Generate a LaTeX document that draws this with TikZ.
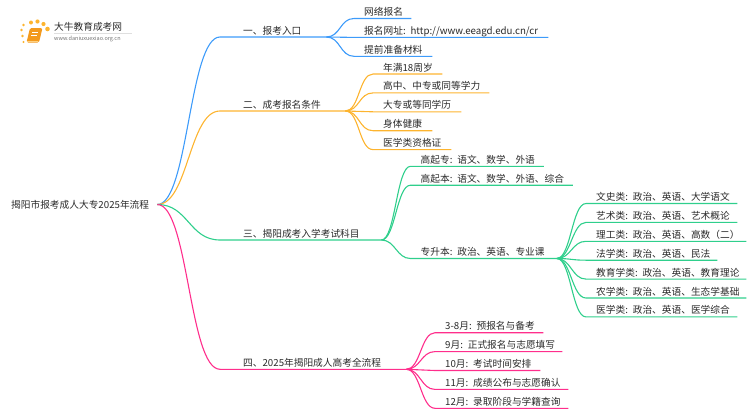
\documentclass[tikz,border=0pt]{standalone}
\usepackage{fontspec}
\setmainfont{Noto Sans CJK SC}
\usetikzlibrary{positioning}
\definecolor{blueline}{HTML}{3D9BFA}
\definecolor{orangeline}{HTML}{FDB42F}
\definecolor{greenline}{HTML}{2FCF8C}
\definecolor{pinkline}{HTML}{FF2E8C}
\definecolor{inktext}{HTML}{2A2A2A}
\definecolor{bookorange}{HTML}{F39A1E}

\begin{document}
\begin{tikzpicture}[x=1pt, y=-1pt]
\tikzset{
	    mytext/.style={font=\fontsize{9.7pt}{12pt}\selectfont, text=inktext},
	    mybranch/.style={mytext, inner xsep=0pt, inner ysep=0pt, text height=15.7pt, text depth=2.8pt, align=left, text width=#1, execute at begin node={\hspace*{23pt}}},
	    myleaf/.style={mytext, inner xsep=0pt, inner ysep=0pt, text height=15.7pt, text depth=2.8pt, align=left, text width=#1, execute at begin node={\hspace*{10pt}}},
	    mytrunk/.style={line width=1.1pt, to path={.. controls +(31,0) and +(-31,0) .. (\tikztotarget)}},
	    mytwig/.style={line width=1.1pt, to path={.. controls +(14,0) and +(-14,0) .. (\tikztotarget)}}
	}
	\useasboundingbox (0,0) rectangle (750,410);

	% logo
	\foreach \dotx/\doty/\dotr in {23.5/25/1.4, 21.5/30/1.4, 22.5/36/1.3, 23.5/42/1.1, 31/22.5/2, 37.5/21.5/2.1, 43.5/24/2.1, 47.5/29/2.3}
		\fill[orangeline] (\dotx,\doty) circle (\dotr);
	\fill[bookorange, rounded corners=1.5pt] (30,28) -- (42.5,28) -- (39,42.5) -- (26.5,42.5) -- cycle;
	\draw[white, line width=0.6pt] (32,32) -- (38,32) (31,35) -- (37,35);
	\draw[orangeline!60, line width=0.7pt] (27,41) -- (38,41);
	\node[mytext, anchor=west, inner sep=0pt] (logotitle) at (54,26.5) {大牛教育成考网};
	\node[anchor=west, inner sep=0pt, font=\fontsize{5.5pt}{6pt}\selectfont, text=gray!90!black] (logosite) at (54,38.5) {www.daniuxuexiao.org.cn};
	\draw[gray!25, line width=0.5pt] (54,33) -- (132,33);

	% root and branches
	\node[mytext, anchor=west, inner xsep=8pt, inner ysep=2pt] (root) at (3,204.5) {揭阳市报考成人大专2025年流程};
	\node[mybranch=106pt, anchor=south west] (entry) at (220,37) {一、报考入口};
	\node[mybranch=125pt, anchor=south west] (cond) at (220,111) {二、成考报名条件};
	\node[mybranch=161pt, anchor=south west] (subject) at (220,240) {三、揭阳成考入学考试科目};
	\node[mybranch=186pt, anchor=south west] (process) at (220,369.3) {四、2025年揭阳成人高考全流程};

	\node[myleaf=57pt, anchor=south west] (online) at (354,18.5) {网络报名};
	\node[myleaf=194pt, below=0pt of online.south west, anchor=north west] (website) {报名网址: http://www.eeagd.edu.cn/cr};
	\node[myleaf=78pt, below=0pt of website.south west, anchor=north west] (material) {提前准备材料};

	\node[myleaf=69pt, anchor=south west] (age) at (373,74) {年满18周岁};
	\node[myleaf=116pt, below=0pt of age.south west, anchor=north west] (school) {高中、中专或同等学力};
	\node[myleaf=88pt, below=0pt of school.south west, anchor=north west] (college) {大专或等同学历};
	\node[myleaf=59pt, below=0pt of college.south west, anchor=north west] (health) {身体健康};
	\node[myleaf=78pt, below=0pt of health.south west, anchor=north west] (medcert) {医学类资格证};

	\node[myleaf=133pt, anchor=south west] (gqz) at (410.5,166.3) {高起专: 语文、数学、外语};
	\node[myleaf=162pt, below=0pt of gqz.south west, anchor=north west] (gqb) {高起本: 语文、数学、外语、综合};
	\node[myleaf=146pt, anchor=south west] (zsb) at (410.5,258.5) {专升本: 政治、英语、专业课};

	\node[myleaf=151pt, anchor=south west] (wenshi) at (586,203.5) {文史类: 政治、英语、大学语文};
	\node[myleaf=151pt, below=0pt of wenshi.south west, anchor=north west] (yishu) {艺术类: 政治、英语、艺术概论};
	\node[myleaf=160pt, below=0pt of yishu.south west, anchor=north west] (ligong) {理工类: 政治、英语、高数（二）};
	\node[myleaf=131pt, below=0pt of ligong.south west, anchor=north west] (faxue) {法学类: 政治、英语、民法};
	\node[myleaf=160pt, below=0pt of faxue.south west, anchor=north west] (jiaoyu) {教育学类: 政治、英语、教育理论};
	\node[myleaf=160pt, below=0pt of jiaoyu.south west, anchor=north west] (nongxue) {农学类: 政治、英语、生态学基础};
	\node[myleaf=151pt, below=0pt of nongxue.south west, anchor=north west] (yixue) {医学类: 政治、英语、医学综合};

	\node[myleaf=108pt, anchor=south west] (march) at (435,332.7) {3-8月: 预报名与备考};
	\node[myleaf=127pt, below=0pt of march.south west, anchor=north west] (sept) {9月: 正式报名与志愿填写};
	\node[myleaf=105pt, below=0pt of sept.south west, anchor=north west] (oct) {10月: 考试时间安排};
	\node[myleaf=133pt, below=0pt of oct.south west, anchor=north west] (nov) {11月: 成绩公布与志愿确认};
	\node[myleaf=133pt, below=0pt of nov.south west, anchor=north west] (dec) {12月: 录取阶段与学籍查询};

	% trunks
	\draw[blueline, mytrunk] (root.east) to (entry.south west) -- (entry.south east);
	\draw[orangeline, mytrunk] (root.east) to (cond.south west) -- (cond.south east);
	\draw[greenline, mytrunk] (root.east) to (subject.south west) -- (subject.south east);
	\draw[pinkline, mytrunk] (root.east) to (process.south west) -- (process.south east);

	% twigs
	\draw[blueline, mytwig] (entry.south east) to (online.south west) -- (online.south east);
	\draw[blueline, mytwig] (entry.south east) to (website.south west) -- (website.south east);
	\draw[blueline, mytwig] (entry.south east) to (material.south west) -- (material.south east);

	\draw[orangeline, mytwig] (cond.south east) to (age.south west) -- (age.south east);
	\draw[orangeline, mytwig] (cond.south east) to (school.south west) -- (school.south east);
	\draw[orangeline, mytwig] (cond.south east) to (college.south west) -- (college.south east);
	\draw[orangeline, mytwig] (cond.south east) to (health.south west) -- (health.south east);
	\draw[orangeline, mytwig] (cond.south east) to (medcert.south west) -- (medcert.south east);

	\draw[greenline, mytwig] (subject.south east) to (gqz.south west) -- (gqz.south east);
	\draw[greenline, mytwig] (subject.south east) to (gqb.south west) -- (gqb.south east);
	\draw[greenline, mytwig] (subject.south east) to (zsb.south west) -- (zsb.south east);

	\draw[greenline, mytwig] (zsb.south east) to (wenshi.south west) -- (wenshi.south east);
	\draw[greenline, mytwig] (zsb.south east) to (yishu.south west) -- (yishu.south east);
	\draw[greenline, mytwig] (zsb.south east) to (ligong.south west) -- (ligong.south east);
	\draw[greenline, mytwig] (zsb.south east) to (faxue.south west) -- (faxue.south east);
	\draw[greenline, mytwig] (zsb.south east) to (jiaoyu.south west) -- (jiaoyu.south east);
	\draw[greenline, mytwig] (zsb.south east) to (nongxue.south west) -- (nongxue.south east);
	\draw[greenline, mytwig] (zsb.south east) to (yixue.south west) -- (yixue.south east);

	\draw[pinkline, mytwig] (process.south east) to (march.south west) -- (march.south east);
	\draw[pinkline, mytwig] (process.south east) to (sept.south west) -- (sept.south east);
	\draw[pinkline, mytwig] (process.south east) to (oct.south west) -- (oct.south east);
	\draw[pinkline, mytwig] (process.south east) to (nov.south west) -- (nov.south east);
	\draw[pinkline, mytwig] (process.south east) to (dec.south west) -- (dec.south east);

\end{tikzpicture}
\end{document}
